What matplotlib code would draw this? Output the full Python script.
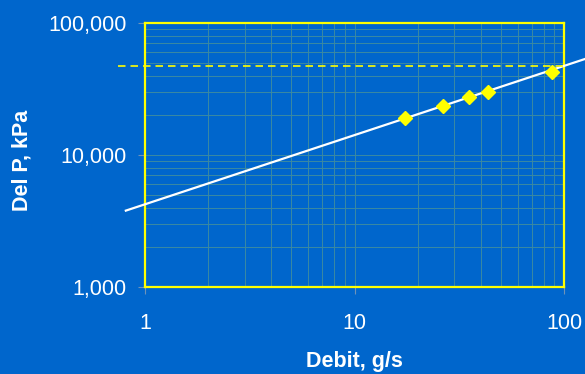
import matplotlib
matplotlib.use("Agg")
import matplotlib.pyplot as plt
from matplotlib.ticker import FixedLocator, FuncFormatter, LogLocator, NullFormatter

plt.rcParams['font.family'] = ['Liberation Sans', 'DejaVu Sans']

# Data
debit = [17.4, 26.4, 35.2, 43.2, 87.4]            # g/s
del_p = [18970, 23620, 27650, 30180, 42340]       # kPa
fit_x = [0.81, 126]                               # fitted trend line endpoints
fit_y = [3790, 53400]
limit_x = [0.743, 100]                            # dashed limit line
limit_y = [47240, 47240]
x_ticks = [1, 10, 100]
y_ticks = [1000, 10000, 100000]

bg = '#0066CC'
fig = plt.figure(figsize=(5.85, 3.74), dpi=100, facecolor=bg)
ax = fig.add_axes([145/585, 1-287/374, (564-145)/585, (287-23)/374])
ax.set_facecolor(bg)
ax.set_xscale('log')
ax.set_yscale('log')
ax.set_xlim(1, 100)
ax.set_ylim(1000, 100000)

grid_c = '#3a8aa2'
ax.xaxis.set_minor_locator(LogLocator(base=10, subs=range(2, 10)))
ax.yaxis.set_minor_locator(LogLocator(base=10, subs=range(2, 10)))
ax.xaxis.set_minor_formatter(NullFormatter())
ax.yaxis.set_minor_formatter(NullFormatter())
ax.grid(True, which='both', color=grid_c, linewidth=0.7)
ax.set_axisbelow(True)

ax.plot(fit_x, fit_y, color='white', linewidth=1.6, clip_on=False, zorder=3)
ax.plot(limit_x, limit_y, color='#FFFF00', linewidth=1.2, dashes=(4.5, 3), clip_on=False, zorder=3)
ax.plot(debit, del_p, linestyle='none', marker='D', markersize=7, color='#FFFF00',
        markeredgecolor='#FFFF00', zorder=4, clip_on=False)

for s in ax.spines.values():
    s.set_color('#FFFF00')
    s.set_linewidth(1.6)

ax.xaxis.set_major_locator(FixedLocator(x_ticks))
ax.yaxis.set_major_locator(FixedLocator(y_ticks))
ax.xaxis.set_major_formatter(FuncFormatter(lambda v, p: f"{v:,.0f}"))
ax.yaxis.set_major_formatter(FuncFormatter(lambda v, p: f"{v:,.0f}"))
ax.tick_params(which='major', colors='#6f93b8', labelcolor='white', labelsize=15.5,
               length=5, width=0.8)
ax.tick_params(axis='x', which='major', pad=14)
ax.tick_params(axis='y', which='major', pad=8)
ax.tick_params(which='minor', length=0)

fig.text(354/585, 1-362/374, 'Debit, g/s', color='white', fontsize=15.5,
         fontweight='bold', ha='center', va='center')
fig.text(22/585, 1-160/374, 'Del P, kPa', color='white', fontsize=15.5,
         fontweight='bold', ha='center', va='center', rotation=90)

fig.savefig('out.png', dpi=100, facecolor=bg)
